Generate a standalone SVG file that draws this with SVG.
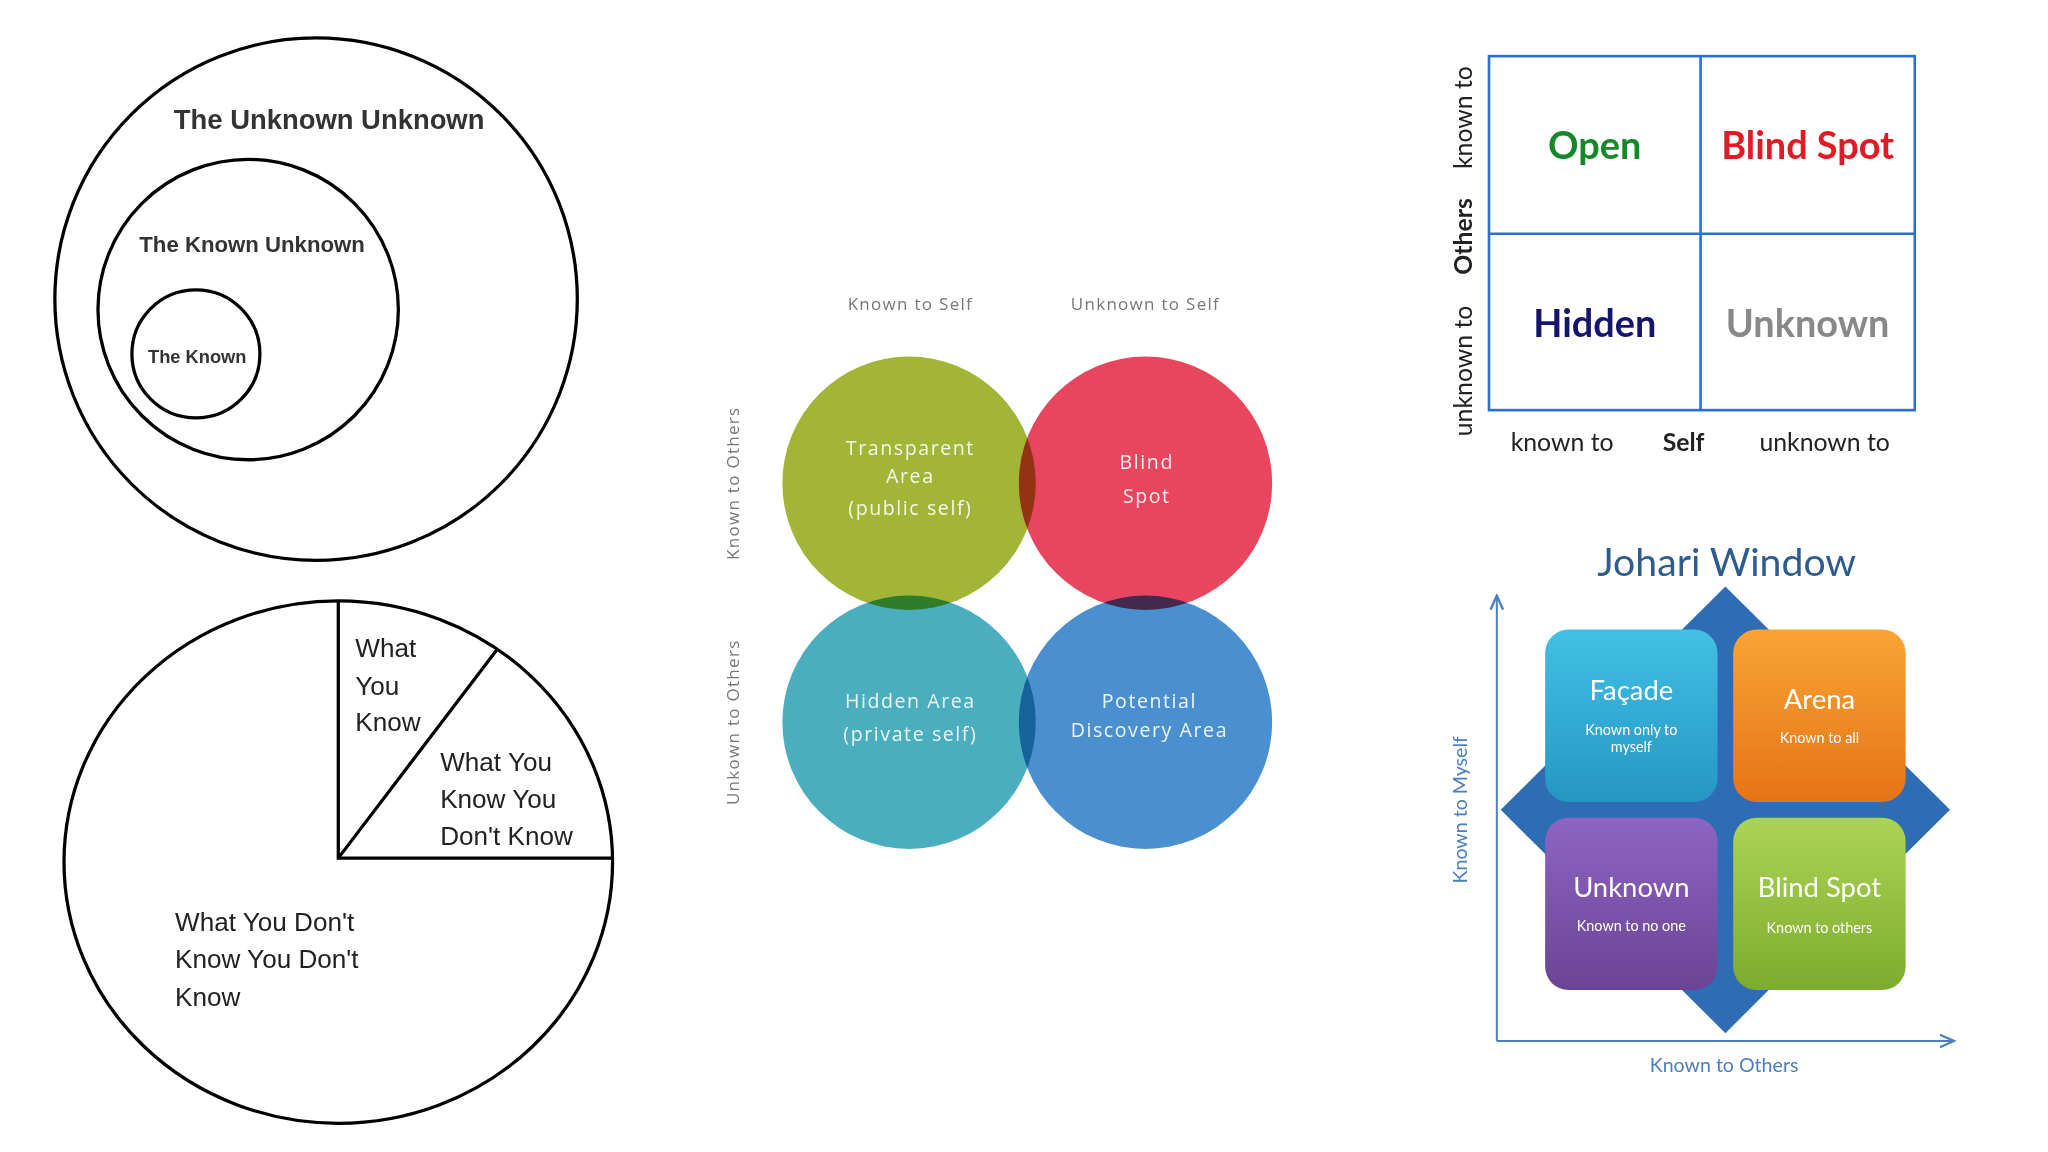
<svg xmlns="http://www.w3.org/2000/svg" width="2048" height="1152" viewBox="0 0 2048 1152">
<defs>
<style>
.ln{fill:none;stroke:#000;stroke-width:2.5}
.bk{font-family:"Liberation Sans",Arial,sans-serif;font-weight:bold;fill:#333;text-anchor:middle}
.pie{font-family:"Liberation Sans",Arial,sans-serif;font-size:20px;fill:#222}
.vl{font-family:"Open Sans","DejaVu Sans",sans-serif;font-size:13px;fill:#777;text-anchor:middle;letter-spacing:1px}
.vw{font-family:"Open Sans","DejaVu Sans",sans-serif;font-size:15px;fill:#fff;fill-opacity:0.9;text-anchor:middle;letter-spacing:1.2px}
.vc{mix-blend-mode:multiply}
.gr{font-family:Lato,"Open Sans",sans-serif;text-anchor:middle}
.jw{font-family:Lato,"Open Sans",sans-serif;fill:#fff;text-anchor:middle}
.ax{fill:none;stroke:#4a7fc0;stroke-width:1.5}
</style>
<linearGradient id="gc" x1="0" y1="0" x2="0" y2="1"><stop offset="0" stop-color="#42c0e6"/><stop offset="1" stop-color="#2596c2"/></linearGradient>
<linearGradient id="go" x1="0" y1="0" x2="0" y2="1"><stop offset="0" stop-color="#f8a434"/><stop offset="1" stop-color="#e67416"/></linearGradient>
<linearGradient id="gp" x1="0" y1="0" x2="0" y2="1"><stop offset="0" stop-color="#8e64c4"/><stop offset="1" stop-color="#6a4494"/></linearGradient>
<linearGradient id="gg" x1="0" y1="0" x2="0" y2="1"><stop offset="0" stop-color="#acd454"/><stop offset="1" stop-color="#7cac2e"/></linearGradient>
<marker id="ar" viewBox="0 0 10 10" refX="9" refY="5" markerWidth="8" markerHeight="8" orient="auto"><path d="M0,1 L9,5 L0,9" fill="none" stroke="#4a7fc0" stroke-width="1.5"/></marker>
</defs>
<rect width="2048" height="1152" fill="#fff"/>
<g transform="scale(1.30612)">
<g id="nested">
<ellipse class="ln" cx="242" cy="229" rx="200" ry="200"/>
<ellipse class="ln" cx="190" cy="237" rx="115" ry="115"/>
<ellipse class="ln" cx="150" cy="271" rx="49" ry="49"/>
<text class="bk" x="252" y="99" font-size="21">The Unknown Unknown</text>
<text class="bk" x="193" y="193" font-size="17">The Known Unknown</text>
<text class="bk" x="151" y="278" font-size="14">The Known</text>
</g>
<g id="pie">
<ellipse class="ln" cx="259" cy="660" rx="210" ry="200"/>
<path class="ln" d="M259,460 L259,657 L469,657 M259,657 L380,498" stroke-width="2"/>
<text class="pie" x="272" y="503">What</text>
<text class="pie" x="272" y="532">You</text>
<text class="pie" x="272" y="560">Know</text>
<text class="pie" x="337" y="590">What You</text>
<text class="pie" x="337" y="619">Know You</text>
<text class="pie" x="337" y="647">Don't Know</text>
<text class="pie" x="134" y="713">What You Don't</text>
<text class="pie" x="134" y="741">Know You Don't</text>
<text class="pie" x="134" y="770">Know</text>
</g>
<g id="venn">
<g style="isolation:isolate">
<circle class="vc" cx="696" cy="370" r="97" fill="#a3b536"/>
<circle class="vc" cx="877" cy="370" r="97" fill="#e8465f"/>
<circle class="vc" cx="696" cy="553" r="97" fill="#4aaebf"/>
<circle class="vc" cx="877" cy="553" r="97" fill="#4a90d0"/>
</g>
<text class="vl" x="697" y="237">Known to Self</text>
<text class="vl" x="877" y="237">Unknown to Self</text>
<text class="vl" transform="translate(566,370) rotate(-90)">Known to Others</text>
<text class="vl" transform="translate(566,553) rotate(-90)">Unkown to Others</text>
<text class="vw" x="697" y="348">Transparent</text>
<text class="vw" x="697" y="370">Area</text>
<text class="vw" x="697" y="394" font-size="13">(public self)</text>
<text class="vw" x="878" y="359">Blind</text>
<text class="vw" x="878" y="385">Spot</text>
<text class="vw" x="697" y="542">Hidden Area</text>
<text class="vw" x="697" y="567" font-size="13">(private self)</text>
<text class="vw" x="880" y="542">Potential</text>
<text class="vw" x="880" y="564">Discovery Area</text>
</g>
<g id="grid">
<rect x="1140" y="43" width="326" height="271" fill="none" stroke="#2a6fd6" stroke-width="2"/>
<path d="M1302,43 V314 M1140,179 H1466" stroke="#2a6fd6" stroke-width="2"/>
<text class="gr" x="1221" y="122" font-size="29" font-weight="bold" fill="#16882a">Open</text>
<text class="gr" x="1384" y="122" font-size="29" font-weight="bold" fill="#e01b24">Blind Spot</text>
<text class="gr" x="1221" y="258" font-size="29" font-weight="bold" fill="#151570">Hidden</text>
<text class="gr" x="1384" y="258" font-size="29" font-weight="bold" fill="#888">Unknown</text>
<text class="gr" x="1196" y="345" font-size="19" fill="#222">known to</text>
<text class="gr" x="1289" y="345" font-size="19" font-weight="bold" fill="#222">Self</text>
<text class="gr" x="1397" y="345" font-size="19" fill="#222">unknown to</text>
<text class="gr" transform="translate(1127,90) rotate(-90)" font-size="19" fill="#222">known to</text>
<text class="gr" transform="translate(1127,181) rotate(-90)" font-size="19" font-weight="bold" fill="#222">Others</text>
<text class="gr" transform="translate(1127,284) rotate(-90)" font-size="19" fill="#222">unknown to</text>
</g>
<g id="johari">
<text class="gr" x="1322" y="441" font-size="30" fill="#2e5c8e">Johari Window</text>
<polygon points="1321,449 1493,620 1321,791 1149,620" fill="#2e6db4"/>
<g id="facade"><rect x="1183" y="482" width="132" height="132" rx="18" fill="url(#gc)"/>
<text class="jw" x="1249" y="536" font-size="21">Façade</text>
<text class="jw" x="1249" y="563" font-size="11">Known only to</text>
<text class="jw" x="1249" y="576" font-size="11">myself</text></g>
<g id="arena"><rect x="1327" y="482" width="132" height="132" rx="18" fill="url(#go)"/>
<text class="jw" x="1393" y="543" font-size="21">Arena</text>
<text class="jw" x="1393" y="569" font-size="11">Known to all</text></g>
<g id="unknown"><rect x="1183" y="626" width="132" height="132" rx="18" fill="url(#gp)"/>
<text class="jw" x="1249" y="687" font-size="21">Unknown</text>
<text class="jw" x="1249" y="713" font-size="11">Known to no one</text></g>
<g id="blind"><rect x="1327" y="626" width="132" height="132" rx="18" fill="url(#gg)"/>
<text class="jw" x="1393" y="687" font-size="21">Blind Spot</text>
<text class="jw" x="1393" y="714" font-size="11">Known to others</text></g>
<g id="axes">
<path class="ax" d="M1146,797 V456" marker-end="url(#ar)"/>
<path class="ax" d="M1146,797 H1496" marker-end="url(#ar)"/>
</g>
<text class="gr" transform="translate(1123,620) rotate(-90)" font-size="15" fill="#4a7fc0">Known to Myself</text>
<text class="gr" x="1320" y="821" font-size="15" fill="#4a7fc0">Known to Others</text>
</g>
</g>
</svg>
